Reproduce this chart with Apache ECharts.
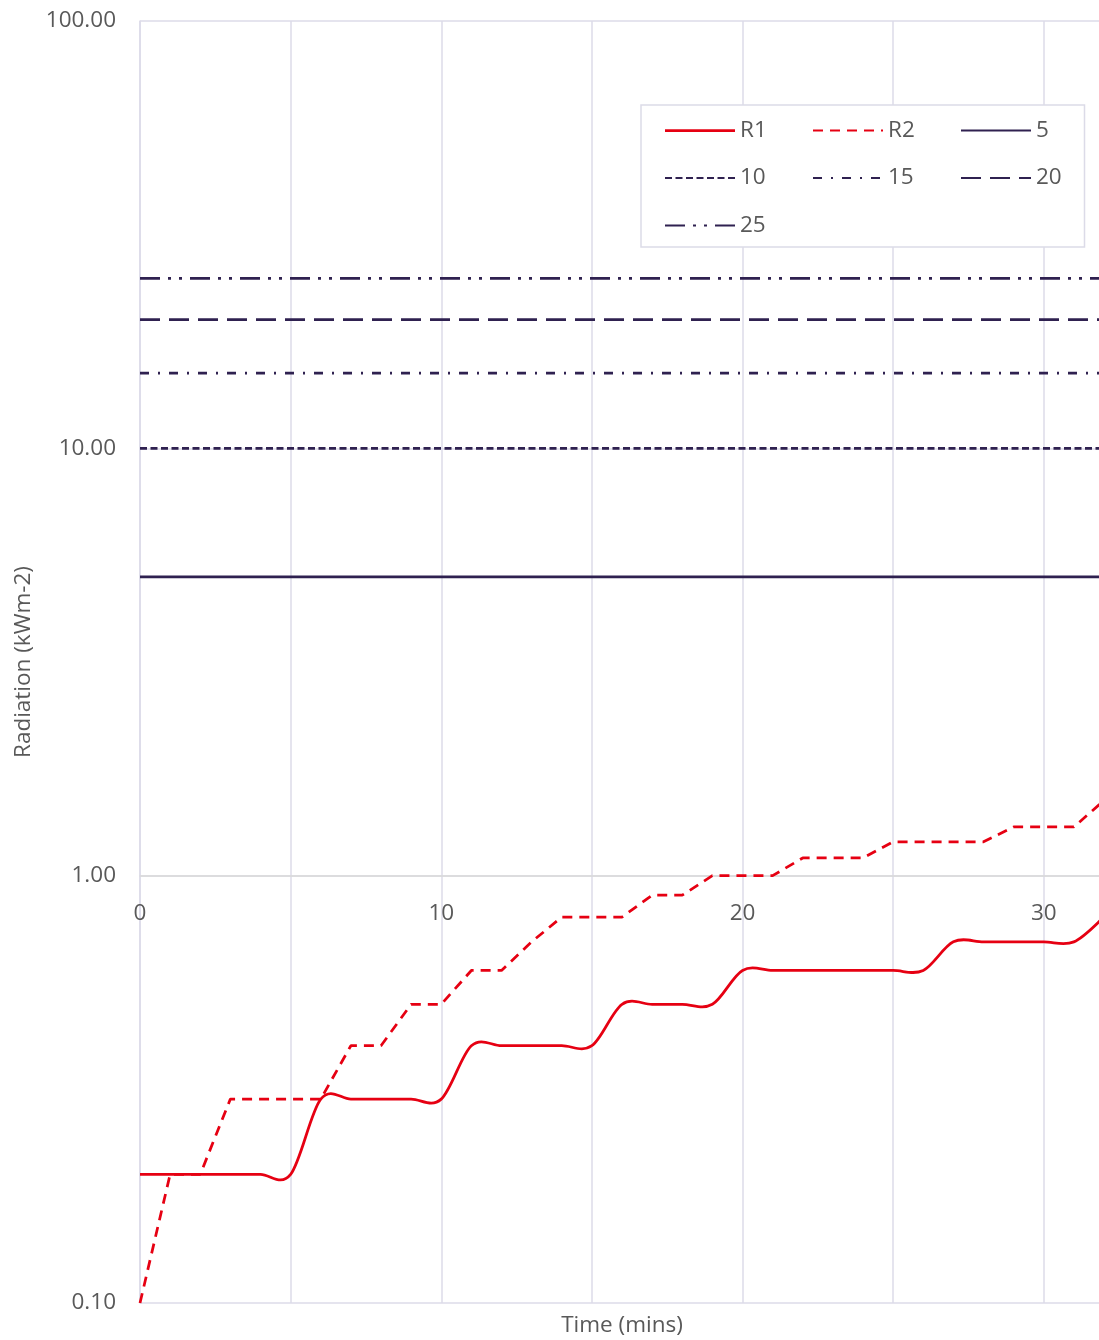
<!DOCTYPE html>
<html lang="en">
<head>
    <meta charset="UTF-8">
    <title>Radiation vs Time</title>
    <script src="https://cdn.jsdelivr.net/npm/echarts@6/dist/echarts.min.js"></script>
    <style>
        html, body { margin: 0; padding: 0; background: #fff; }
        #chart { width: 1099px; height: 1340px; }
    </style>
</head>
<body>
    <div id="chart"></div>
    <script>
        // minutes
        var times = [0, 1, 2, 3, 4, 5, 6, 7, 8, 9, 10, 11, 12, 13, 14, 15, 16,
                     17, 18, 19, 20, 21, 22, 23, 24, 25, 26, 27, 28, 29, 30, 31, 32];
        var r1 = [0.2, 0.2, 0.2, 0.2, 0.2, 0.2, 0.3, 0.3, 0.3, 0.3, 0.3, 0.4, 0.4, 0.4, 0.4, 0.4, 0.5,
                  0.5, 0.5, 0.5, 0.6, 0.6, 0.6, 0.6, 0.6, 0.6, 0.6, 0.7, 0.7, 0.7, 0.7, 0.7, 0.8];
        var r2 = [0.1, 0.2, 0.2, 0.3, 0.3, 0.3, 0.3, 0.4, 0.4, 0.5, 0.5, 0.6, 0.6, 0.7, 0.8, 0.8, 0.8,
                  0.9, 0.9, 1.0, 1.0, 1.0, 1.1, 1.1, 1.1, 1.2, 1.2, 1.2, 1.2, 1.3, 1.3, 1.3, 1.5];
        // constant reference levels
        var levels = [5, 10, 15, 20, 25];
        var levelDash = ['solid', [7, 3.5], [9, 9, 2, 9], [20, 9], [20, 8, 3, 8, 3, 8]];

        var red = '#e60012';
        var navy = '#2f2150';
        var gridColor = '#dcdbe8';
        var textColor = '#595959';
        var font = 'Open Sans';
        var fs = 22.5;

        function pairs(ys) {
            return times.map(function (t, i) { return [t, ys[i]]; });
        }

        // spreadsheet-style smoothed line (catmull-rom through the points, overshoot allowed)
        function smoothPath(params, api) {
            if (params.dataIndex !== 0) return;
            var pts = r1.map(function (v, i) { return api.coord([times[i], v]); });
            var d = 'M' + pts[0][0] + ' ' + pts[0][1];
            for (var i = 0; i < pts.length - 1; i++) {
                var p0 = pts[i - 1] || pts[i], p1 = pts[i], p2 = pts[i + 1], p3 = pts[i + 2] || pts[i + 1];
                var c1x = p1[0] + (p2[0] - p0[0]) / 6, c1y = p1[1] + (p2[1] - p0[1]) / 6;
                var c2x = p2[0] - (p3[0] - p1[0]) / 6, c2y = p2[1] - (p3[1] - p1[1]) / 6;
                d += ' C' + c1x + ' ' + c1y + ' ' + c2x + ' ' + c2y + ' ' + p2[0] + ' ' + p2[1];
            }
            return {
                type: 'path',
                shape: { pathData: d },
                style: { stroke: red, lineWidth: 2.75, fill: 'none' },
                silent: true
            };
        }

        var series = [
            {
                name: 'R1', type: 'custom', clip: true,
                renderItem: smoothPath,
                itemStyle: { color: red },
                encode: { x: 0, y: 1 },
                data: pairs(r1)
            },
            {
                name: 'R2', type: 'line', symbol: 'none',
                lineStyle: { color: red, width: 2.75, type: [10, 7] }, itemStyle: { color: red },
                data: pairs(r2)
            }
        ];
        levels.forEach(function (lv, i) {
            series.push({
                name: String(lv), type: 'line', symbol: 'none',
                lineStyle: { color: navy, width: 2.75, type: levelDash[i] }, itemStyle: { color: navy },
                data: times.map(function (t) { return [t, lv]; })
            });
        });

        var chart = echarts.init(document.getElementById('chart'));
        chart.setOption({
            animation: false,
            textStyle: { fontFamily: font },
            grid: { left: 140, top: 21, right: -5, bottom: 37, containLabel: false, outerBoundsMode: 'none' },
            legend: {
                left: 641, top: 105,
                width: 430,
                padding: [14, 1, 10, 23],
                itemGap: 24.5,
                itemWidth: 70, itemHeight: 14,
                backgroundColor: '#fff',
                borderColor: gridColor, borderWidth: 1.5,
                itemStyle: { opacity: 0 },
                formatter: '{a|{name}}',
                textStyle: {
                    fontSize: fs, color: textColor, fontFamily: font, lineHeight: 17,
                    rich: { a: { width: 47.5, height: 17, lineHeight: 17, fontSize: fs, color: textColor } }
                },
                data: [
                    { name: 'R1', icon: 'path://M0 0H70V2.75H0Z', itemStyle: { opacity: 1, color: red } },
                    'R2', '5', '10', '15', '20', '25'
                ]
            },
            xAxis: [
                {
                    type: 'value', min: 0, max: 32, interval: 5, position: 'bottom',
                    name: 'Time (mins)', nameLocation: 'middle', nameGap: 11,
                    nameTextStyle: { fontSize: fs, color: textColor },
                    axisLine: { show: false },
                    axisTick: { show: false },
                    axisLabel: { show: false },
                    splitLine: { show: true, lineStyle: { color: gridColor, width: 1.5 } }
                },
                {
                    type: 'value', min: 0, max: 32, interval: 5, position: 'bottom', offset: -427,
                    axisLine: { show: true, onZero: false, lineStyle: { color: '#d9d9d9', width: 1.5 } },
                    axisTick: { show: false },
                    splitLine: { show: false },
                    axisLabel: {
                        margin: 26, fontSize: fs, color: textColor,
                        formatter: function (v) { return v % 10 === 0 ? String(v) : ''; }
                    }
                }
            ],
            yAxis: {
                type: 'log', logBase: 10, min: 0.1, max: 100,
                name: 'Radiation (kWm-2)', nameLocation: 'middle', nameGap: 103,
                nameTextStyle: { fontSize: fs, color: textColor },
                axisLine: { show: true, lineStyle: { color: gridColor, width: 1.5 } },
                axisTick: { show: false },
                axisLabel: {
                    margin: 24, fontSize: fs, color: textColor,
                    formatter: function (v) { return Number(v).toFixed(2); }
                },
                splitLine: { show: true, lineStyle: { color: gridColor, width: 1.5 } }
            },
            series: series
        });
    </script>
</body>
</html>
